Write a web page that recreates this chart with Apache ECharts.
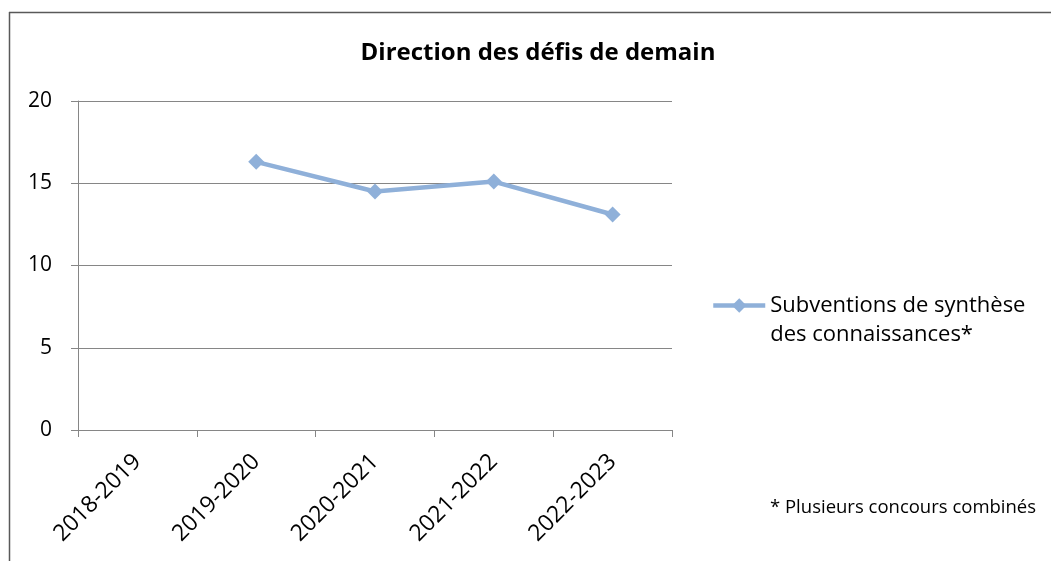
<!DOCTYPE html>
<html>
<head>
<meta charset="utf-8">
<script src="https://cdn.jsdelivr.net/npm/echarts@6/dist/echarts.min.js"></script>
<style>
  html, body { margin: 0; padding: 0; background: #fff; }
  #chart { width: 1051px; height: 561px; }
</style>
</head>
<body>
<div id="chart"></div>
<script>
// Exercices financiers et montants des subventions
const categories = ['2018-2019', '2019-2020', '2020-2021', '2021-2022', '2022-2023'];
const subventions = [null, 16.3, 14.5, 15.1, 13.1];
const seriesName = 'Subventions de synthèse des connaissances*';
const legendLines = ['Subventions de synthèse', 'des connaissances*'];
const titleText = 'Direction des défis de demain';
const footnote = '* Plusieurs concours combinés';

const FONT = '"Open Sans", "Noto Sans", sans-serif';
const LINE_COLOR = '#8FB0D9';
const GRID_COLOR = '#868686';

const chart = echarts.init(document.getElementById('chart'));
chart.setOption({
  animation: false,
  backgroundColor: '#fff',
  title: {
    text: titleText,
    left: 533,
    textAlign: 'center',
    top: 36,
    textStyle: { fontFamily: FONT, fontSize: 24, fontWeight: 'bold', color: '#000' }
  },
  grid: { left: 78, top: 101, width: 594, height: 329, containLabel: false },
  xAxis: {
    type: 'category',
    data: categories,
    boundaryGap: true,
    axisLine: { lineStyle: { color: GRID_COLOR, width: 1 } },
    axisTick: { show: true, length: 7, lineStyle: { color: GRID_COLOR } },
    axisLabel: {
      rotate: 45, margin: 28, fontFamily: FONT, fontSize: 23, color: '#000'
    },
    splitLine: { show: false }
  },
  yAxis: {
    type: 'value',
    min: 0, max: 20, interval: 5,
    axisLine: { show: true, lineStyle: { color: GRID_COLOR, width: 1 } },
    axisTick: { show: true, length: 7, lineStyle: { color: GRID_COLOR } },
    axisLabel: { margin: 26, fontFamily: FONT, fontSize: 21, color: '#000' },
    splitLine: { show: true, lineStyle: { color: GRID_COLOR, width: 1 } }
  },
  legend: {
    left: 711, top: 262, orient: 'vertical', padding: 0,
    itemWidth: 52, itemHeight: 18, itemGap: 0,
    // leading blank line keeps the marker level with the first text line
    formatter: () => '\n' + legendLines.join('\n'),
    textStyle: { fontFamily: FONT, fontSize: 22, color: '#000', lineHeight: 29 },
    lineStyle: { color: LINE_COLOR, width: 4.5 },
    itemStyle: { color: LINE_COLOR },
    data: [{ name: seriesName }]
  },
  series: [{
    name: seriesName,
    type: 'line',
    data: subventions,
    connectNulls: false,
    symbol: 'diamond',
    symbolSize: 16,
    lineStyle: { color: LINE_COLOR, width: 4.5 },
    itemStyle: { color: LINE_COLOR }
  }],
  graphic: [
    { type: 'line', shape: { x1: 9.5, y1: 12, x2: 9.5, y2: 561 }, style: { stroke: '#595959', lineWidth: 1.5 } },
    { type: 'line', shape: { x1: 9, y1: 12.5, x2: 1051, y2: 12.5 }, style: { stroke: '#595959', lineWidth: 1.5 } },
    { type: 'text', left: 770, top: 498, style: { text: footnote, font: '18.5px "Open Sans", sans-serif', fill: '#000' } }
  ]
});
</script>
</body>
</html>
